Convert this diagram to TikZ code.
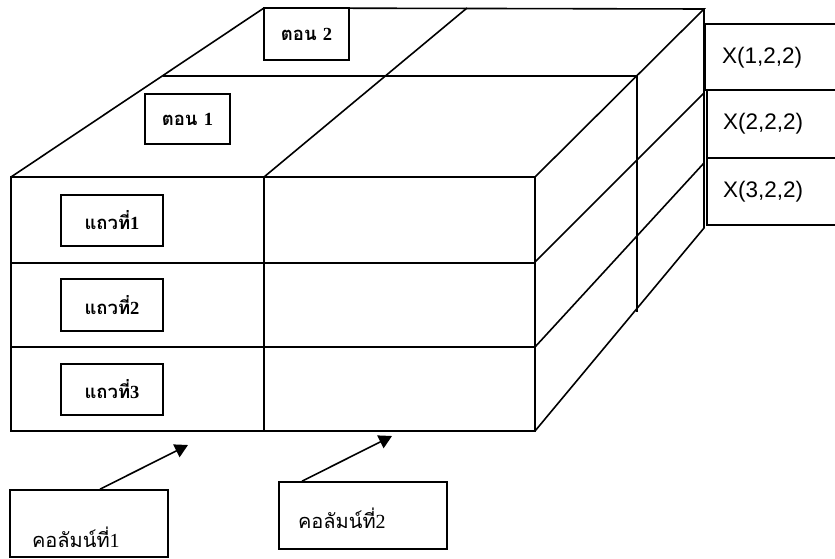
\documentclass[tikz,border=0pt]{standalone}
\usepackage{fontspec}
\setmainfont{Liberation Serif}
\newfontfamily\thaifont[Script=Thai]{Loma}
\newfontfamily\labelsans{Liberation Sans}
\newfontfamily\numfont{Liberation Serif}
\usetikzlibrary{arrows.meta}

\tikzset{
  edge/.style={line width=1.6pt, line join=miter},
  tagbox/.style={draw, line width=1.6pt, inner sep=0pt, align=center,
    font=\thaifont\bfseries\fontsize{18.5}{21}\selectfont},
  colbox/.style={draw, line width=1.6pt, inner ysep=0pt, align=left,
    font=\thaifont\fontsize{20}{24}\selectfont},
  xlabel/.style={inner sep=0pt, anchor=west,
    font=\labelsans\fontsize{22.5}{26}\selectfont},
  pointer/.style={line width=1.6pt, -{Triangle[length=13pt,width=14pt]}}
}
\newcommand{\dg}[1]{{\numfont #1}}
\newcommand{\lowered}[2]{\raisebox{-#1}[\height][\depth]{#2}}

\begin{document}
\begin{tikzpicture}[x=1pt, y=-1pt]
  \useasboundingbox (0,0) rectangle (835,559);
  \clip (0,0) rectangle (835,559);

  % corners of the block
  \coordinate (fl) at (11,177);   \coordinate (fm) at (264,177);
  \coordinate (fr) at (535,177);
  \coordinate (bl) at (11,431);   \coordinate (bm) at (264,431);
  \coordinate (br) at (535,431);
  \coordinate (tl) at (264,8);    \coordinate (tm) at (467,8);
  \coordinate (tr) at (704,9);
  \coordinate (ml) at (163,76);   \coordinate (mr) at (637,76);
  \coordinate (mb) at (637,312);
  \coordinate (rb) at (704,228);

  % front face: two columns, three rows
  \draw[edge] (fl) rectangle (br);
  \draw[edge] (fm) -- (bm);
  \draw[edge] (11,263) -- (535,263);
  \draw[edge] (11,347) -- (535,347);

  % top face with the two layers
  \draw[edge] (fl) -- (tl) -- (tr) -- (fr);
  \draw[edge] (fm) -- (tm);
  \draw[edge] (ml) -- (mr) -- (mb);

  % right side face
  \draw[edge] (tr) -- (rb) -- (br);
  \draw[edge] (535,262) -- (704,93);
  \draw[edge] (535,347) -- (704,163);

  % layer and row labels
  \node[tagbox, minimum width=85pt, minimum height=52pt] (ton2) at (306.5,34) {ตอน \dg{2}};
  \node[tagbox, minimum width=85pt, minimum height=50pt] (ton1) at (187.5,119) {ตอน \dg{1}};
  \node[tagbox, minimum width=102pt, minimum height=51pt] (row1) at (112,220.5) {แถวที่\dg{1}};
  \node[tagbox, minimum width=102pt, minimum height=52pt] (row2) at (112,305) {แถวที่\dg{2}};
  \node[tagbox, minimum width=102pt, minimum height=51pt] (row3) at (112,389.5) {แถวที่\dg{3}};

  % element boxes, open towards the right margin
  \draw[edge] (850,24) -- (705,24) -- (705,90) -- (850,90);
  \draw[edge] (707,90) -- (707,158) -- (850,158);
  \draw[edge] (707,158) -- (707,225) -- (850,225);
  \node[xlabel] (x1) at (722,58) {X(1,2,2)};
  \node[xlabel] (x2) at (723,124) {X(2,2,2)};
  \node[xlabel] (x3) at (723,192) {X(3,2,2)};

  % column labels with pointers
  \node[colbox, minimum width=158pt, minimum height=67pt, text width=114pt, inner xsep=22pt]
    (col1) at (89,523.5) {\lowered{14pt}{คอลัมน์ที่\dg{1}}};
  \node[colbox, minimum width=168pt, minimum height=67pt, text width=130pt, inner xsep=19pt]
    (col2) at (363,515.5) {\lowered{3pt}{คอลัมน์ที่\dg{2}}};

  \coordinate (tip1) at (188,445);
  \coordinate (tip2) at (392,436);
  \draw[pointer] ([xshift=11pt]col1.north) -- (tip1);
  \draw[pointer] ([xshift=-61pt]col2.north) -- (tip2);
\end{tikzpicture}
\end{document}
